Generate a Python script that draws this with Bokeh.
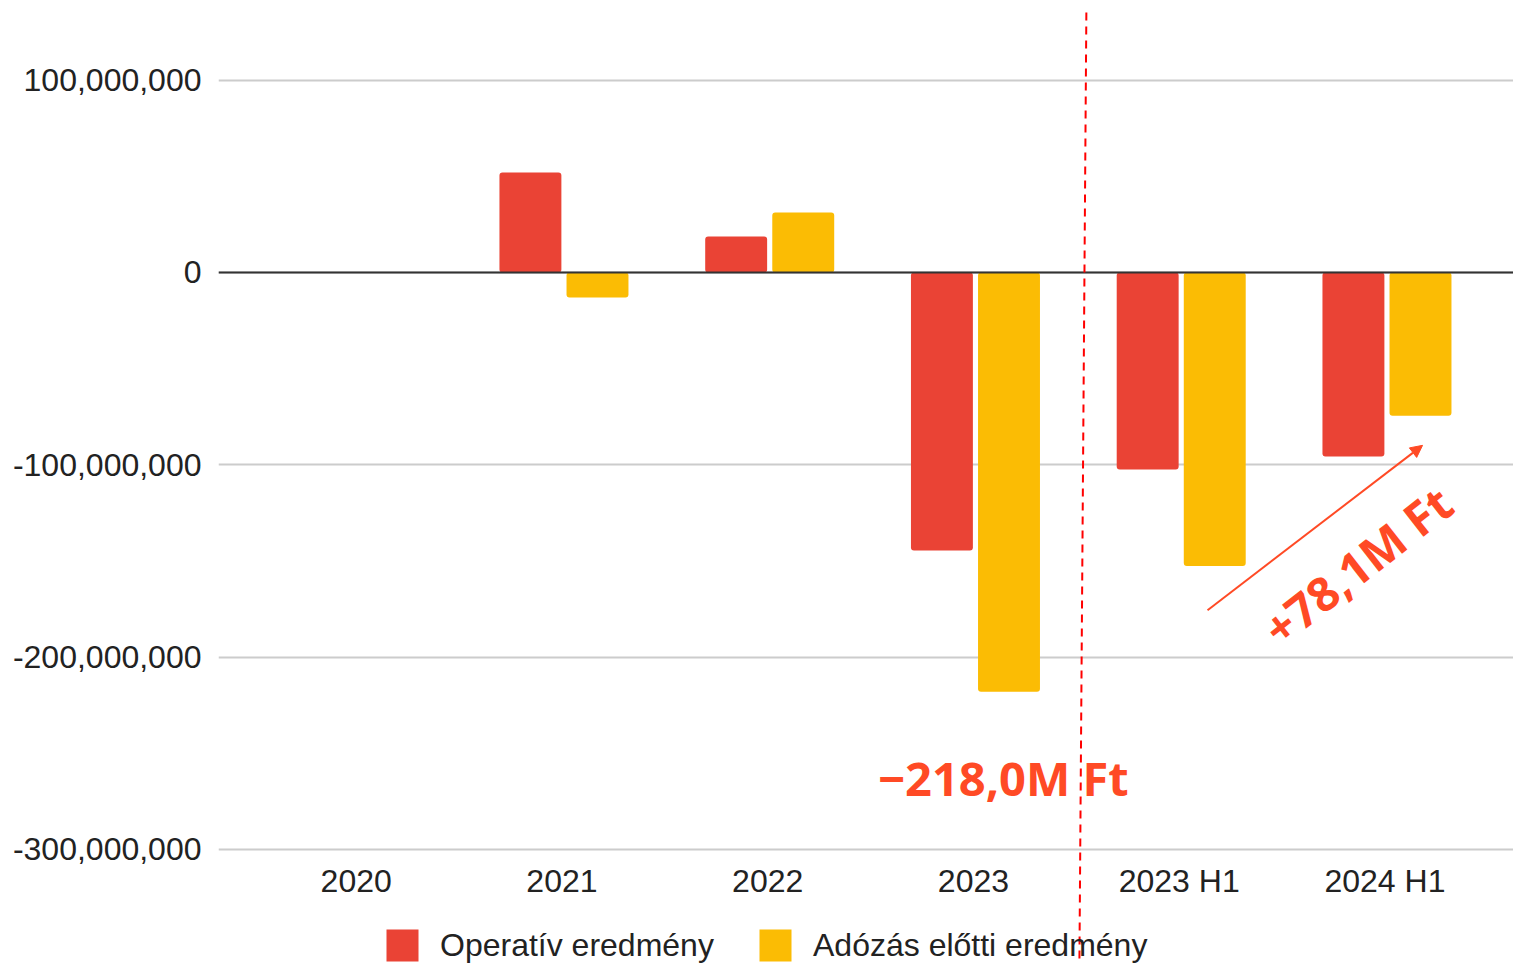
from bokeh.plotting import figure
from bokeh.models import (ColumnDataSource, Range1d, FixedTicker, NumeralTickFormatter,
                          Legend, LegendItem, Label, Arrow, NormalHead, Span)
from bokeh.core.properties import value
from bokeh.transform import dodge
from bokeh.embed import file_html
from bokeh.resources import INLINE

categories = ["2020", "2021", "2022", "2023", "2023 H1", "2024 H1"]
operativ = [0, 52.0e6, 18.7e6, -144.6e6, -102.4e6, -95.7e6]
adozas_elotti = [0, -13.0e6, 31.2e6, -218.0e6, -152.6e6, -74.5e6]
series_names = ["Operatív eredmény", "Adózás előtti eredmény"]
y_ticks = [100e6, 0, -100e6, -200e6, -300e6]

RED = "#EA4335"
YELLOW = "#FBBC04"
ACCENT = "#FF4A25"
FONT = "Liberation Sans"
XLABEL_Y = -316.5e6  # data-space row where the category labels sit (below the -300M line)

src = ColumnDataSource(dict(x=list(range(len(categories))), cat=categories,
                            op=operativ, ad=adozas_elotti,
                            ly=[XLABEL_Y] * len(categories)))

p = figure(width=1513, height=963, output_backend="svg", toolbar_location=None,
           x_range=Range1d(-0.679, 5.615), y_range=Range1d(-359.3e6, 141.4e6),
           min_border_left=218, min_border_right=0, min_border_top=0, min_border_bottom=0)
p.outline_line_color = None
p.background_fill_color = "white"
p.border_fill_color = "white"

r1 = p.vbar(x=dodge("x", -0.163, range=p.x_range), top="op", width=0.301, source=src,
            fill_color=RED, line_color=None, border_radius=3)
r2 = p.vbar(x=dodge("x", 0.163, range=p.x_range), top="ad", width=0.301, source=src,
            fill_color=YELLOW, line_color=None, border_radius=3)

# zero line
p.add_layout(Span(location=0, dimension="width", line_color="#333333", line_width=2))

# y axis (real axis); x category labels drawn as text in the plot area
p.xaxis.visible = False
p.yaxis.ticker = FixedTicker(ticks=y_ticks)
p.yaxis.formatter = NumeralTickFormatter(format="0,0")
p.yaxis.axis_line_color = None
p.yaxis.major_tick_line_color = None
p.yaxis.minor_tick_line_color = None
p.yaxis.major_label_text_font = FONT
p.yaxis.major_label_text_font_size = "32px"
p.yaxis.major_label_text_color = "#222222"
p.yaxis.major_label_standoff = 11
p.xgrid.grid_line_color = None
p.ygrid.grid_line_color = "#CCCCCC"
p.ygrid.grid_line_width = 2

p.text(x="x", y="ly", text="cat", source=src, text_align="center", text_baseline="middle",
       text_font=value(FONT), text_font_size="32px", text_color="#222222", x_offset=-2)

# legend at the bottom: one legend per item so each can be placed exactly
leg_style = dict(orientation="horizontal", glyph_width=40, glyph_height=40, label_standoff=18,
                 padding=0, margin=0, border_line_color=None, background_fill_alpha=0,
                 label_text_font=FONT, label_text_font_size="32px", label_text_color="#222222")
p.add_layout(Legend(items=[LegendItem(label=series_names[0], renderers=[r1])],
                    location=(164, -2), **leg_style), "center")
p.add_layout(Legend(items=[LegendItem(label=series_names[1], renderers=[r2])],
                    location=(537, -2), **leg_style), "center")

# annotations
p.add_layout(Arrow(end=None, x_start=3.539, y_start=135.1e6, x_end=3.505, y_end=-362e6,
                   line_color="#FF0000", line_width=2, line_dash="8 6"))
p.add_layout(Arrow(end=NormalHead(size=12, fill_color=ACCENT, line_color=ACCENT),
                   x_start=4.128, y_start=-175.6e6, x_end=5.173, y_end=-89.9e6,
                   line_color=ACCENT, line_width=2))
p.add_layout(Label(x=3.136, y=-262.6e6, text="−218,0M Ft", text_align="center",
                   text_baseline="middle", text_font="Open Sans", text_font_style="bold",
                   text_font_size="47px", text_color=ACCENT))
p.add_layout(Label(x=4.857, y=-152.4e6, text="+78,1M Ft", text_align="center",
                   text_baseline="middle", text_font="Open Sans", text_font_style="bold",
                   text_font_size="47px", text_color=ACCENT, angle=38, angle_units="deg"))

open("out.html", "w").write(file_html(p, INLINE))
